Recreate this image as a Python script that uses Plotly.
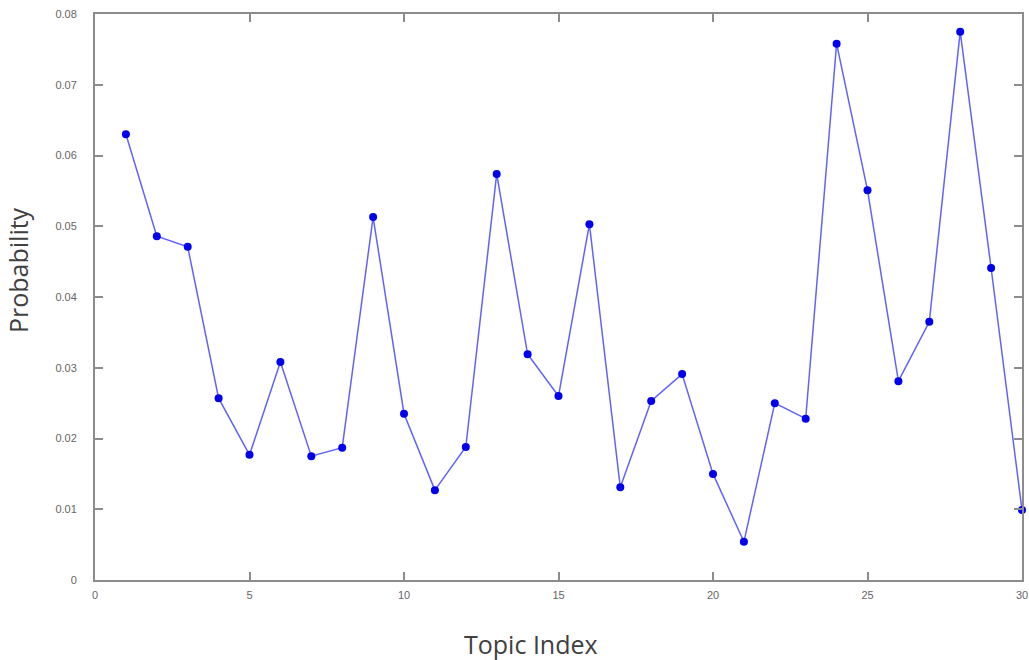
import plotly.graph_objects as go

topic_index = list(range(1, 31))
probability = [0.0630, 0.0486, 0.0471, 0.0257, 0.0177, 0.0308, 0.0175, 0.0187,
               0.0513, 0.0235, 0.0127, 0.0188, 0.0574, 0.0319, 0.0260, 0.0503,
               0.0131, 0.0253, 0.0291, 0.0150, 0.0054, 0.0250, 0.0228, 0.0758,
               0.0551, 0.0281, 0.0365, 0.0775, 0.0441, 0.0099]
x_ticks = [0, 5, 10, 15, 20, 25, 30]
y_ticks = [0, 0.01, 0.02, 0.03, 0.04, 0.05, 0.06, 0.07, 0.08]
y_tick_labels = ["0", "0.01", "0.02", "0.03", "0.04", "0.05", "0.06", "0.07", "0.08"]

fig = go.Figure()
fig.add_trace(go.Scatter(
    x=topic_index, y=probability, mode="lines+markers",
    line=dict(color="#6262ff", width=1.5),
    marker=dict(color="#0000ee", size=8, symbol="circle"),
    cliponaxis=False,
    showlegend=False,
))

axis_common = dict(
    showgrid=False, zeroline=False, showline=True, linecolor="#8c8c8c", linewidth=2,
    mirror="ticks", ticks="inside", ticklen=8, tickcolor="#8c8c8c", tickwidth=1.5,
    tickfont=dict(family="Liberation Sans, Arial", size=11, color="#666666"),
    automargin=False,
)

fig.update_layout(
    width=1029, height=660,
    margin=dict(l=95, r=7, t=14, b=80),
    paper_bgcolor="white", plot_bgcolor="white",
    xaxis=dict(range=[0, 30], tickvals=x_ticks, ticktext=[str(v) for v in x_ticks],
               ticklabelstandoff=4, **axis_common),
    yaxis=dict(range=[0, 0.08], tickvals=y_ticks, ticktext=y_tick_labels,
               ticklabelstandoff=14, **axis_common),
    annotations=[
        dict(text="Topic Index", xref="paper", yref="paper", x=0.4703, y=0,
             xanchor="center", yanchor="middle", yshift=-64, showarrow=False,
             font=dict(family="Open Sans", size=25, color="#404040")),
        dict(text="Probability", xref="paper", yref="paper", x=0, y=0.5477,
             xanchor="center", yanchor="middle", xshift=-77, textangle=-90, showarrow=False,
             font=dict(family="Open Sans", size=25, color="#404040")),
    ],
)

fig.write_html("out.html", config={"displayModeBar": False},
               post_script="document.body.style.margin='0';document.documentElement.style.overflow='hidden';")
